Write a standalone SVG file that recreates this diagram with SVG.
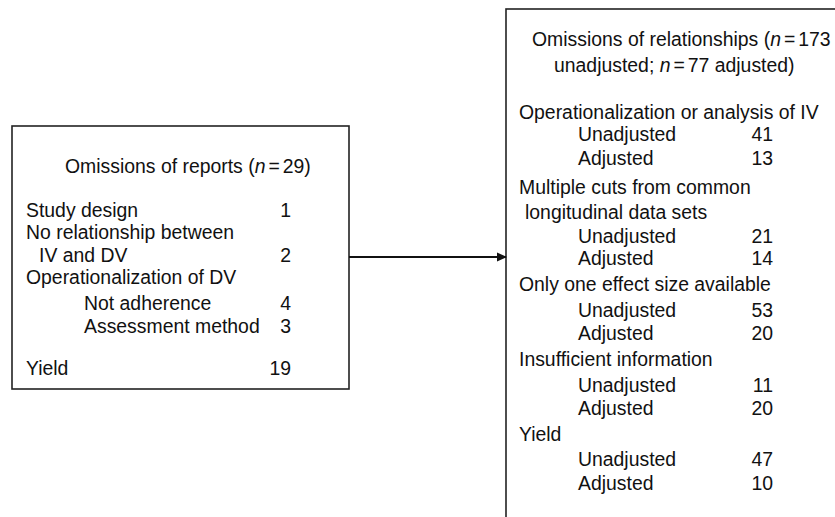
<svg xmlns="http://www.w3.org/2000/svg" width="835" height="517" viewBox="0 0 835 517">
<style>
text{font-family:"Liberation Sans",Arial,Helvetica,sans-serif;font-size:19.4px;fill:#111}
.n{text-anchor:end}
.i{font-style:italic}
.box{fill:#fff;stroke:#222;stroke-width:1.6}
.conn{stroke:#111;stroke-width:2.2;fill:none}
</style>
<defs>
<marker id="ah" markerWidth="10" markerHeight="10" refX="9" refY="5" orient="auto" markerUnits="userSpaceOnUse">
<path d="M0,0.5 L10,5 L0,9.5 Z" fill="#111"/>
</marker>
</defs>
<rect width="835" height="517" fill="#fff"/>
<g id="reports">
<rect class="box" x="12" y="126" width="337" height="263"/>
<text x="65" y="173">Omissions of reports (<tspan class="i">n</tspan><tspan dx="3">=</tspan><tspan dx="3">29)</tspan></text>
<text x="26" y="217">Study design</text><text class="n" x="291" y="217">1</text>
<text x="26" y="239">No relationship between</text>
<text x="39" y="262">IV and DV</text><text class="n" x="291" y="262">2</text>
<text x="26" y="284">Operationalization of DV</text>
<text x="84" y="310">Not adherence</text><text class="n" x="291" y="310">4</text>
<text x="84" y="333">Assessment method</text><text class="n" x="291" y="333">3</text>
<text x="26" y="375">Yield</text><text class="n" x="291" y="375">19</text>
</g>
<g id="relationships">
<rect class="box" x="506" y="9" width="345" height="530"/>
<text x="532" y="46">Omissions of relationships (<tspan class="i">n</tspan><tspan dx="3">=</tspan><tspan dx="3">173</tspan></text>
<text x="554" y="72">unadjusted; <tspan class="i">n</tspan><tspan dx="3">=</tspan><tspan dx="3">77 adjusted)</tspan></text>
<text x="519" y="119">Operationalization or analysis of IV</text>
<text x="578" y="141">Unadjusted</text><text class="n" x="773" y="141">41</text>
<text x="578" y="165">Adjusted</text><text class="n" x="773" y="165">13</text>
<text x="519" y="194">Multiple cuts from common</text>
<text x="525" y="219">longitudinal data sets</text>
<text x="578" y="243">Unadjusted</text><text class="n" x="773" y="243">21</text>
<text x="578" y="265">Adjusted</text><text class="n" x="773" y="265">14</text>
<text x="519" y="291">Only one effect size available</text>
<text x="578" y="317">Unadjusted</text><text class="n" x="773" y="317">53</text>
<text x="578" y="340">Adjusted</text><text class="n" x="773" y="340">20</text>
<text x="519" y="366">Insufficient information</text>
<text x="578" y="392">Unadjusted</text><text class="n" x="773" y="392">11</text>
<text x="578" y="415">Adjusted</text><text class="n" x="773" y="415">20</text>
<text x="519" y="441">Yield</text>
<text x="578" y="466">Unadjusted</text><text class="n" x="773" y="466">47</text>
<text x="578" y="490">Adjusted</text><text class="n" x="773" y="490">10</text>
</g>
<g id="connectors">
<line class="conn" x1="349" y1="257" x2="506" y2="257" marker-end="url(#ah)"/>
</g>
</svg>
